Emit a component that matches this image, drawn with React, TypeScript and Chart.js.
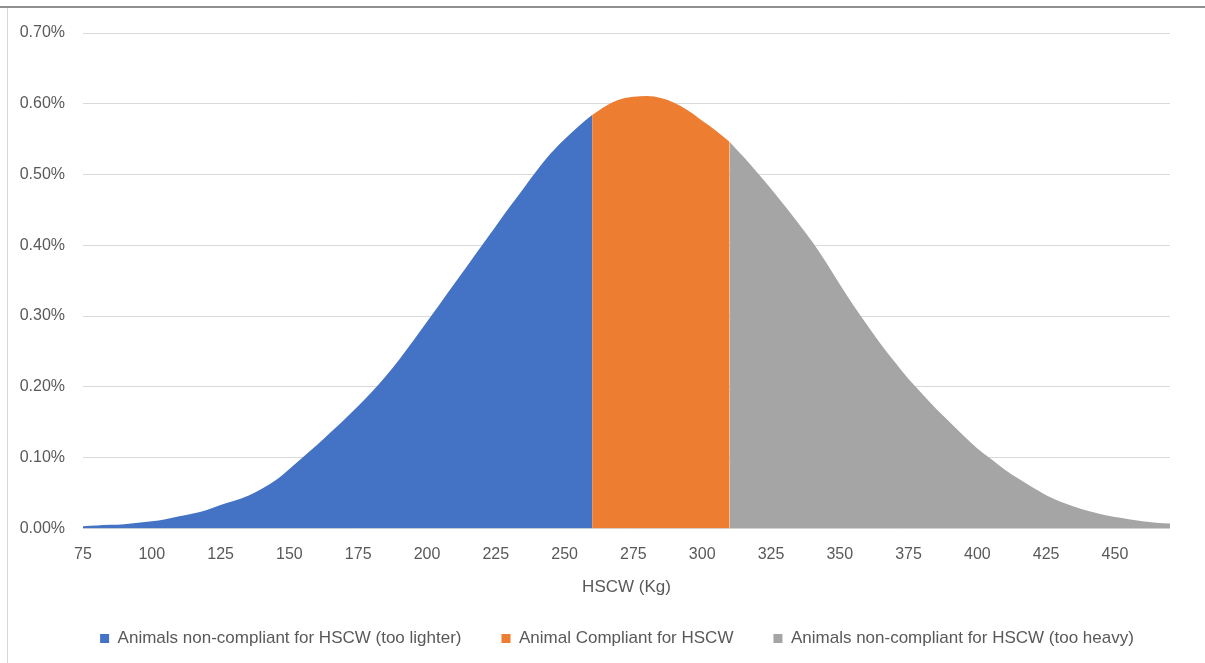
import React, { useEffect, useRef } from 'react';
import { Chart, registerables } from 'chart.js';

Chart.register(...registerables);

// HSCW (kg) sample points
const weights = [
  75, 80, 85, 90, 95, 100, 105, 110, 115, 120, 125, 130, 135, 140, 145, 150, 155, 160, 165, 170,
  175, 180, 185, 190, 195, 200, 205, 210, 215, 220, 225, 230, 235, 240, 245, 250, 255, 260, 265, 270,
  275, 280, 285, 290, 295, 300, 305, 310, 315, 320, 325, 330, 335, 340, 345, 350, 355, 360, 365, 370,
  375, 380, 385, 390, 395, 400, 405, 410, 415, 420, 425, 430, 435, 440, 445, 450, 455, 460, 465, 470,
];

// share of animals (%) at each weight
const density = [
  0.003, 0.004, 0.005, 0.006, 0.008, 0.010, 0.013, 0.017, 0.021, 0.026, 0.033, 0.039, 0.046, 0.056, 0.068, 0.084, 0.101, 0.118, 0.136, 0.154,
  0.173, 0.193, 0.215, 0.239, 0.265, 0.292, 0.319, 0.346, 0.373, 0.400, 0.427, 0.454, 0.480, 0.506, 0.530, 0.550, 0.568, 0.584, 0.597, 0.606,
  0.610, 0.611, 0.608, 0.601, 0.590, 0.576, 0.562, 0.546, 0.525, 0.503, 0.480, 0.456, 0.431, 0.405, 0.376, 0.345, 0.315, 0.287, 0.260, 0.235,
  0.211, 0.190, 0.169, 0.150, 0.131, 0.113, 0.098, 0.083, 0.070, 0.058, 0.047, 0.038, 0.031, 0.025, 0.020, 0.016, 0.013, 0.010, 0.008, 0.007,
];

// compliance limits (kg)
const lowerLimit = 260;
const upperLimit = 310;

const seriesLabels = [
  'Animals non-compliant for HSCW (too lighter)',
  'Animal Compliant for HSCW',
  'Animals non-compliant for HSCW (too heavy)',
];
const seriesColors = ['#4472C4', '#ED7D31', '#A5A5A5'];

const xTickValues = [75, 100, 125, 150, 175, 200, 225, 250, 275, 300, 325, 350, 375, 400, 425, 450];
const yTickValues = [0, 0.1, 0.2, 0.3, 0.4, 0.5, 0.6, 0.7];

const axisTitle = 'HSCW (Kg)';
const textColor = '#595959';
const fontFamily = '"Liberation Sans", Arial, sans-serif';

// moves the legend block to where the reference has it
const legendShift = {
  id: 'legendShift',
  afterLayout(chart: any) {
    const lg = chart.legend;
    if (!lg) return;
    lg.left += 26;
    lg.right += 26;
    lg.top -= 6;
    lg.bottom -= 6;
  },
};

export default function App() {
  const ref = useRef<HTMLCanvasElement>(null);

  useEffect(() => {
    if (!ref.current) return;
    const pts = weights.map((w, i) => ({ x: w, y: density[i] }));
    const seg = (lo: number, hi: number) => pts.filter((p) => p.x >= lo && p.x <= hi);
    const ranges: [number, number][] = [
      [weights[0], lowerLimit],
      [lowerLimit, upperLimit],
      [upperLimit, weights[weights.length - 1]],
    ];

    Chart.defaults.font.family = fontFamily;

    const chart = new Chart(ref.current, {
      type: 'line',
      data: {
        datasets: ranges.map((r, i) => ({
          label: seriesLabels[i],
          data: seg(r[0], r[1]),
          backgroundColor: seriesColors[i],
          borderColor: seriesColors[i],
          borderWidth: 0,
          fill: 'origin',
          pointRadius: 0,
          cubicInterpolationMode: 'monotone' as const,
        })),
      },
      options: {
        responsive: false,
        animation: false,
        layout: { padding: { left: 12, right: 35, top: 33, bottom: 0 } },
        scales: {
          x: {
            type: 'linear',
            min: weights[0],
            max: weights[weights.length - 1],
            grid: { display: false, drawTicks: false },
            border: { display: false },
            afterBuildTicks: (s: any) => {
              s.ticks = xTickValues.map((v) => ({ value: v }));
            },
            ticks: {
              color: textColor,
              font: { size: 16 },
              padding: 17,
              maxRotation: 0,
              autoSkip: false,
            },
            title: {
              display: true,
              text: axisTitle,
              color: textColor,
              font: { size: 17 },
              padding: { top: -4, bottom: -2 },
            },
          },
          y: {
            min: yTickValues[0],
            max: yTickValues[yTickValues.length - 1],
            afterBuildTicks: (s: any) => {
              s.ticks = yTickValues.map((v) => ({ value: v }));
            },
            afterFit: (s: any) => {
              s.width = 71;
            },
            grid: { color: '#d9d9d9', drawTicks: false, lineWidth: 1 },
            border: { display: false },
            ticks: {
              color: textColor,
              font: { size: 16 },
              padding: 18,
              callback: (v: any) => Number(v).toFixed(2) + '%',
            },
          },
        },
        plugins: {
          legend: {
            position: 'bottom',
            labels: {
              boxWidth: 9,
              boxHeight: 9,
              padding: 40,
              color: textColor,
              font: { size: 17 },
            },
          },
          tooltip: { enabled: false },
        },
      },
      plugins: [legendShift],
    });
    return () => chart.destroy();
  }, []);

  return (
    <div style={{ position: 'absolute', left: 0, top: 0, width: 1205, height: 663, background: '#fff', overflow: 'hidden' }}>
      <canvas ref={ref} width={1205} height={663} style={{ display: 'block', position: 'absolute', left: 0, top: 0 }} />
      <div style={{ position: 'absolute', left: 0, top: 6, width: 1205, height: 2, background: '#8f8f8f' }} />
      <div style={{ position: 'absolute', left: 7, top: 8, width: 1, height: 655, background: '#d6d6d6' }} />
    </div>
  );
}
